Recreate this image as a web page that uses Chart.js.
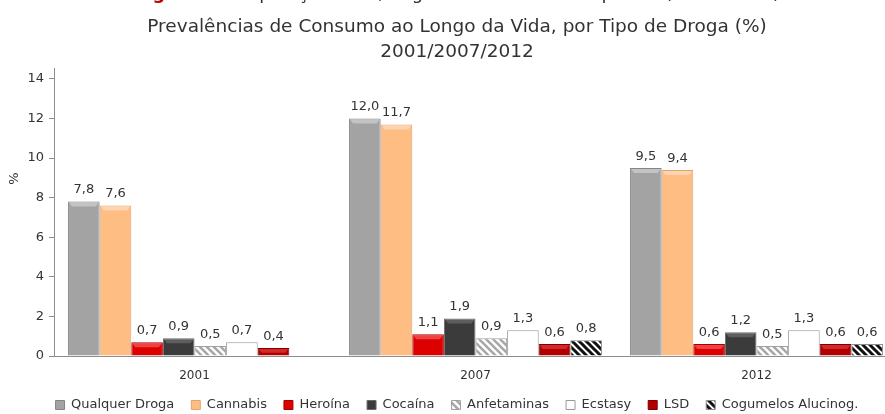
<!DOCTYPE html>
<html>
<head>
<meta charset="utf-8">
<script src="https://cdn.jsdelivr.net/npm/chart.js@4.4.1/dist/chart.umd.min.js"></script>
<style>
  html, body { margin: 0; padding: 0; overflow: hidden; background: #fff; }
  #wrap { position: absolute; left: 0; top: 0; width: 912px; height: 414px; }
</style>
</head>
<body>
<div id="wrap"><canvas id="c" width="912" height="414"></canvas></div>
<script>
const categories = ['2001', '2007', '2012'];
const seriesNames = ['Qualquer Droga', 'Cannabis', 'Heroína', 'Cocaína', 'Anfetaminas', 'Ecstasy', 'LSD', 'Cogumelos Alucinog.'];
const qualquerDroga = [7.8, 12.0, 9.5];
const cannabis = [7.6, 11.7, 9.4];
const heroina = [0.7, 1.1, 0.6];
const cocaina = [0.9, 1.9, 1.2];
const anfetaminas = [0.5, 0.9, 0.5];
const ecstasy = [0.7, 1.3, 1.3];
const lsd = [0.4, 0.6, 0.6];
const cogumelos = [null, 0.8, 0.6];
const yTicks = [0, 2, 4, 6, 8, 10, 12, 14];
const titleLines = ['Prevalências de Consumo ao Longo da Vida, por Tipo de Droga (%)', '2001/2007/2012'];
const croppedTitleRed = 'Figura 3 - ';
const croppedTitleRest = 'População Total, Segundo os Anos de Inquérito (15-64 anos)';
const yAxisTitle = '%';

const FONT = 'DejaVu Sans';
const TXT = '#333333';

function hatch(stripe, bg, size, lw) {
  const c = document.createElement('canvas');
  c.width = size; c.height = size;
  const g = c.getContext('2d');
  g.fillStyle = bg; g.fillRect(0, 0, size, size);
  g.strokeStyle = stripe; g.lineWidth = lw; g.lineCap = 'square';
  g.beginPath();
  for (let k = -2; k <= 2; k++) {
    g.moveTo(k * size - size, -size);
    g.lineTo(k * size + 2 * size, 2 * size);
  }
  g.stroke();
  return g.createPattern(c, 'repeat');
}
const anfPattern = hatch('#a8a8a8', '#ffffff', 7, 2.6);
const cogPattern = hatch('#111111', '#ffffff', 7, 3);

const values = [qualquerDroga, cannabis, heroina, cocaina, anfetaminas, ecstasy, lsd, cogumelos];
const fills = ['#a3a3a3', '#fdbd83', '#dc0000', '#3b3b3b', anfPattern, '#ffffff', '#b00000', cogPattern];
const borders = ['#858585', '#e0a56c', '#a80000', '#6a6a6a', '#a0a0a0', '#9a9a9a', '#800000', '#8a8a8a'];
const bevel = ['rgba(255,255,255,0.35)', 'rgba(255,255,255,0.35)', 'rgba(255,120,120,0.55)', 'rgba(255,255,255,0.18)', null, null, 'rgba(255,90,90,0.45)', null];

const datasets = values.map((v, i) => ({
  label: seriesNames[i],
  data: v,
  backgroundColor: fills[i],
  borderColor: borders[i],
  borderWidth: 1,
  categoryPercentage: 0.9,
  barPercentage: 1.0
}));

const CANVAS_H = 414;
const AREA_BOTTOM = 356;
const X_AXIS_H = 30;
const LEGEND_CENTER_Y = 405;
const LEGEND_PAD = 17;
const LEGEND_FONT = 13;

const labelPlugin = {
  id: 'valueLabels',
  afterDatasetsDraw(chart) {
    const ctx = chart.ctx;
    ctx.save();
    chart.data.datasets.forEach((ds, di) => {
      if (!bevel[di]) return;
      const meta = chart.getDatasetMeta(di);
      meta.data.forEach((bar, j) => {
        if (ds.data[j] === null) return;
        const l = bar.x - bar.width / 2 + 1, r = bar.x + bar.width / 2 - 1, t = bar.y + 1;
        const h = Math.min(4, (bar.base - bar.y) / 2);
        ctx.fillStyle = bevel[di];
        ctx.beginPath();
        ctx.moveTo(l, t); ctx.lineTo(r, t); ctx.lineTo(r - 3, t + h); ctx.lineTo(l + 3, t + h);
        ctx.closePath();
        ctx.fill();
      });
    });
    ctx.font = '13px ' + FONT;
    ctx.fillStyle = TXT;
    ctx.textAlign = 'center';
    ctx.textBaseline = 'bottom';
    chart.data.datasets.forEach((ds, di) => {
      const meta = chart.getDatasetMeta(di);
      meta.data.forEach((bar, j) => {
        const v = ds.data[j];
        if (v === null || v === undefined) return;
        ctx.fillText(v.toFixed(1).replace('.', ','), bar.x, bar.y - 5);
      });
    });
    ctx.restore();
  }
};

const extraText = {
  id: 'extraText',
  afterLayout(chart) {
    const lg = chart.legend;
    if (lg) {
      lg.top = LEGEND_CENTER_Y - LEGEND_PAD - LEGEND_FONT / 2;
      lg.bottom = CANVAS_H;
      lg.height = lg.bottom - lg.top;
    }
  },
  afterDraw(chart) {
    const ctx = chart.ctx;
    const area = chart.chartArea;
    ctx.save();
    ctx.font = '13px ' + FONT;
    ctx.fillStyle = TXT;
    ctx.translate(15, area.top + (area.bottom - area.top) * 0.382);
    ctx.rotate(-Math.PI / 2);
    ctx.textAlign = 'center';
    ctx.textBaseline = 'middle';
    ctx.fillText(yAxisTitle, 0, 0);
    ctx.restore();
    ctx.save();
    ctx.font = 'bold 18px ' + FONT;
    const w1 = ctx.measureText(croppedTitleRed).width;
    ctx.font = '18px ' + FONT;
    const w2 = ctx.measureText(croppedTitleRest).width;
    const x = 457 - (w1 + w2) / 2;
    ctx.textBaseline = 'alphabetic';
    ctx.textAlign = 'left';
    ctx.font = 'bold 18px ' + FONT;
    ctx.fillStyle = '#c00000';
    ctx.fillText(croppedTitleRed, x, -1);
    ctx.font = '18px ' + FONT;
    ctx.fillStyle = TXT;
    ctx.fillText(croppedTitleRest, x + w1, -1);
    ctx.restore();
  }
};

const chart = new Chart(document.getElementById('c'), {
  type: 'bar',
  data: { labels: categories, datasets },
  options: {
    responsive: false,
    animation: false,
    layout: { padding: { left: 17, right: 15, top: 0, bottom: 0 } },
    plugins: {
      title: {
        display: true,
        text: titleLines,
        color: TXT,
        font: { family: FONT, size: 18.5, weight: 'normal', lineHeight: 1.35 },
        padding: { top: 15, bottom: 4 }
      },
      legend: {
        position: 'bottom',
        labels: {
          color: TXT,
          font: { family: FONT, size: LEGEND_FONT },
          boxWidth: 9,
          boxHeight: 9,
          padding: LEGEND_PAD,
          generateLabels(chart) {
            return chart.data.datasets.map((ds, i) => ({
              text: ds.label,
              fillStyle: ds.backgroundColor,
              strokeStyle: ds.borderColor,
              lineWidth: 1,
              datasetIndex: i,
              hidden: false,
              fontColor: TXT
            }));
          }
        }
      },
      tooltip: { enabled: false }
    },
    scales: {
      x: {
        grid: { display: false, drawTicks: false },
        border: { display: true, color: '#8c8c8c', width: 1 },
        ticks: { color: TXT, font: { family: FONT, size: 12 }, padding: 13 },
        afterFit(axis) { axis.height = X_AXIS_H; }
      },
      y: {
        min: 0,
        max: 14.5,
        afterBuildTicks(axis) { axis.ticks = yTicks.map(v => ({ value: v })); },
        afterFit(axis) { axis.width = 37; },
        grid: { drawOnChartArea: false, drawTicks: true, tickLength: 5, color: '#8c8c8c' },
        border: { display: true, color: '#8c8c8c', width: 1 },
        ticks: { color: TXT, font: { family: FONT, size: 13 }, padding: 5 }
      }
    }
  },
  plugins: [labelPlugin, extraText]
});

// keep the legend's reserved band small so the plot ends where the reference's does
const lgd = chart.legend;
const protoFit = lgd.fit;
lgd.fit = function () {
  protoFit.call(this);
  this.height = CANVAS_H - AREA_BOTTOM - X_AXIS_H;
};
chart.update();
</script>
</body>
</html>
